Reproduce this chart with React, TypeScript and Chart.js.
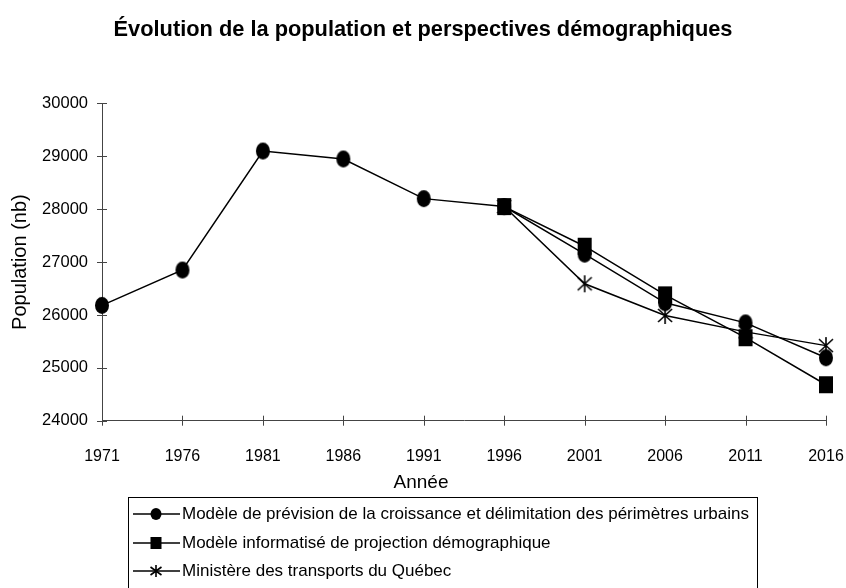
import React, { useEffect, useRef } from "react";
import { Chart, registerables } from "chart.js";

Chart.register(...registerables);

const years = ["1971", "1976", "1981", "1986", "1991", "1996", "2001", "2006", "2011", "2016"];
const modeleCroissance = [26180, 26850, 29100, 28950, 28200, 28050, 27150, 26230, 25850, 25190];
const modeleInformatise = [null, null, null, null, null, 28050, 27300, 26380, 25570, 24680];
const ministereTransports = [null, null, null, null, null, 28050, 26590, 25990, 25680, 25420];
const seriesLabels = [
  "Modèle de prévision de la croissance et délimitation des périmètres urbains",
  "Modèle informatisé de projection démographique",
  "Ministère des transports du Québec",
];
const titleText = "Évolution de la population et perspectives démographiques";
const xTitle = "Année";
const yTitle = "Population (nb)";
const yMin = 24000;
const yMax = 30000;
const yStep = 1000;

const FONT = "'Liberation Sans', Arial, sans-serif";

function drawMarker(ctx: CanvasRenderingContext2D, kind: string, cx: number, cy: number, w: number, h: number) {
  ctx.save();
  ctx.fillStyle = "#000";
  ctx.strokeStyle = "#000";
  if (kind === "circle") {
    ctx.beginPath();
    ctx.ellipse(cx, cy, w / 2, h / 2, 0, 0, Math.PI * 2);
    ctx.fill();
  } else if (kind === "square") {
    ctx.fillRect(cx - w / 2, cy - h / 2, w, h);
  } else {
    ctx.lineWidth = 1.6;
    ctx.beginPath();
    ctx.moveTo(cx, cy - h / 2);
    ctx.lineTo(cx, cy + h / 2);
    ctx.moveTo(cx - w / 2, cy - h / 2 + 2);
    ctx.lineTo(cx + w / 2, cy + h / 2 - 2);
    ctx.moveTo(cx + w / 2, cy - h / 2 + 2);
    ctx.lineTo(cx - w / 2, cy + h / 2 - 2);
    ctx.stroke();
  }
  ctx.restore();
}

function markerImage(kind: string, w: number, h: number) {
  const c = document.createElement("canvas");
  c.width = w + 2;
  c.height = h + 2;
  const ctx = c.getContext("2d")!;
  drawMarker(ctx, kind, (w + 2) / 2, (h + 2) / 2, w, h);
  return c;
}

export default function App() {
  const ref = useRef<HTMLCanvasElement>(null);

  useEffect(() => {
    if (!ref.current) return;
    const kinds = ["circle", "square", "star"];

    const crossTicks = {
      id: "crossTicks",
      beforeDatasetsDraw(chart: any) {
        const ctx = chart.ctx;
        const xs = chart.scales.x;
        const ys = chart.scales.y;
        const area = chart.chartArea;
        ctx.save();
        ctx.strokeStyle = "#444";
        ctx.lineWidth = 1;
        ys.ticks.forEach((_: any, i: number) => {
          const y = Math.round(ys.getPixelForTick(i)) + 0.5;
          ctx.beginPath();
          ctx.moveTo(area.left - 5, y);
          ctx.lineTo(area.left + 5, y);
          ctx.stroke();
        });
        xs.ticks.forEach((_: any, i: number) => {
          const x = Math.round(xs.getPixelForTick(i)) + 0.5;
          ctx.beginPath();
          ctx.moveTo(x, area.bottom - 5);
          ctx.lineTo(x, area.bottom + 5);
          ctx.stroke();
        });
        ctx.restore();
      },
    };

    const boxLegend = {
      id: "boxLegend",
      afterDraw(chart: any) {
        const ctx = chart.ctx;
        ctx.save();
        // x axis title, centred on the canvas as in the reference
        ctx.fillStyle = "#000";
        ctx.font = `19px ${FONT}`;
        ctx.textBaseline = "middle";
        ctx.textAlign = "center";
        ctx.fillText(xTitle, 421, 483);

        ctx.strokeStyle = "#000";
        ctx.lineWidth = 1;
        ctx.strokeRect(128.5, 497.5, 629, 120);
        const rows = [514, 543, 571];
        chart.data.datasets.forEach((ds: any, i: number) => {
          const y = rows[i];
          ctx.beginPath();
          ctx.lineWidth = 1.3;
          ctx.strokeStyle = "#000";
          ctx.moveTo(133, y);
          ctx.lineTo(180, y);
          ctx.stroke();
          drawMarker(ctx, kinds[i], 156, y, 11, 12);
          ctx.fillStyle = "#000";
          ctx.font = `17px ${FONT}`;
          ctx.textBaseline = "middle";
          ctx.textAlign = "left";
          ctx.fillText(ds.label, 182, y);
        });
        ctx.restore();
      },
    };

    const images = kinds.map((k) => markerImage(k, 14, 17));

    const mk = (label: string, data: (number | null)[], i: number) => ({
      label,
      data,
      borderColor: "#000",
      backgroundColor: "#000",
      borderWidth: 1.5,
      pointStyle: images[i],
      pointRadius: 8,
      tension: 0,
      spanGaps: false,
    });

    const chart = new Chart(ref.current, {
      type: "line",
      data: {
        labels: years,
        datasets: [
          mk(seriesLabels[0], modeleCroissance, 0),
          mk(seriesLabels[1], modeleInformatise, 1),
          mk(seriesLabels[2], ministereTransports, 2),
        ],
      },
      plugins: [crossTicks, boxLegend],
      options: {
        animation: false,
        responsive: false,
        maintainAspectRatio: false,
        layout: { padding: { left: 0, top: 0, right: 0, bottom: 93.6 } },
        plugins: {
          legend: { display: false },
          tooltip: { enabled: false },
          title: {
            display: true,
            text: titleText,
            color: "#000",
            font: { family: FONT, size: 21.8, weight: "bold" },
            padding: { top: 17, bottom: 60.3 },
          },
        },
        scales: {
          x: {
            offset: false,
            grid: { display: true, drawOnChartArea: false, drawTicks: false },
            border: { display: true, color: "#444", width: 1 },
            ticks: { color: "#000", font: { family: FONT, size: 16 }, padding: 26.4, maxRotation: 0, autoSkip: false },
            title: { display: false, text: xTitle },
            afterFit: (s: any) => { s.height = 73.7; s.paddingLeft = 0; s.paddingRight = 20; },
          },
          y: {
            min: yMin,
            max: yMax,
            grid: { display: true, drawOnChartArea: false, drawTicks: false },
            border: { display: true, color: "#444", width: 1 },
            ticks: {
              stepSize: yStep,
              color: "#000",
              font: { family: FONT, size: 16.5 },
              padding: 14,
              callback: (v: any) => String(v),
            },
            title: { display: true, text: yTitle, color: "#000", font: { family: FONT, size: 20 }, padding: { top: 8, bottom: 0 } },
            afterFit: (s: any) => { s.width = 102; s.paddingTop = 0; s.paddingBottom = 0; },
          },
        },
      },
    } as any);
    return () => chart.destroy();
  }, []);

  return (
    <div style={{ position: "fixed", left: 0, top: 0, width: 846, height: 588, background: "#fff" }}>
      <canvas ref={ref} width={846} height={588} style={{ display: "block", width: 846, height: 588 }} />
    </div>
  );
}
